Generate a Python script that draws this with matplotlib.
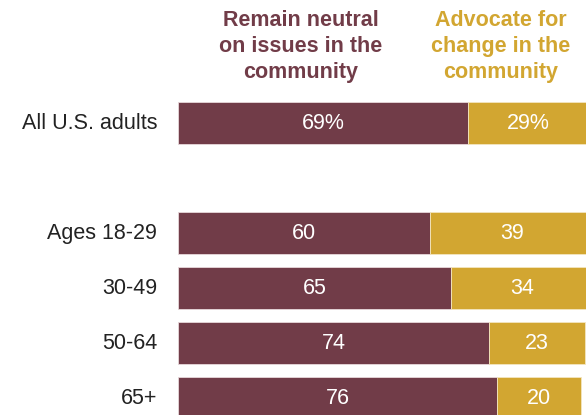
import matplotlib
matplotlib.use("Agg")
import matplotlib.pyplot as plt

plt.rcParams['font.family'] = ['Liberation Sans', 'DejaVu Sans']

# Rows (top to bottom) and the share choosing each option
groups = ["All U.S. adults", "Ages 18-29", "30-49", "50-64", "65+"]
row_pos = [0, 2, 3, 4, 5]
neutral = [69, 60, 65, 74, 76]
advocate = [29, 39, 34, 23, 20]
neutral_labels = ["69%", "60", "65", "74", "76"]
advocate_labels = ["29%", "39", "34", "23", "20"]

MAROON = "#713c48"
GOLD = "#d2a631"

W, H = 586, 415
fig = plt.figure(figsize=(W / 100, H / 100), dpi=100)
fig.patch.set_facecolor("white")

# axes starts where the bars start and runs off the right edge
ax = fig.add_axes([178 / W, 0, 1 - 178 / W, 1])
ax.set_xlim(0, 408 / 4.2)
ax.set_ylim((H - 123) / 55, -123 / 55)
ax.axis("off")

bar_h = 0.77
ax.barh(row_pos, neutral, height=bar_h, color=MAROON,
        edgecolor="#e8d8da", linewidth=0.6)
ax.barh(row_pos, advocate, left=neutral, height=bar_h, color=GOLD,
        edgecolor="#f3e6c0", linewidth=0.6)

for y, n, a, nl, al in zip(row_pos, neutral, advocate, neutral_labels, advocate_labels):
    ax.text(n / 2, y, nl, ha="center", va="center", color="white", fontsize=15.5)
    ax.text(n + a / 2, y, al, ha="center", va="center", color="white", fontsize=15.5)

# row labels to the left of the bars
for y, g in zip(row_pos, groups):
    ax.text(-21 / 4.2, y, g, ha="right", va="center", color="#222222",
            fontsize=15.5, clip_on=False)

# column headers
fig.text(301 / W, 1 - 10 / H, "Remain neutral\non issues in the\ncommunity",
         ha="center", va="top", color=MAROON, fontsize=15.5,
         fontweight="bold", linespacing=1.3)
fig.text(501 / W, 1 - 10 / H, "Advocate for\nchange in the\ncommunity",
         ha="center", va="top", color=GOLD, fontsize=15.5,
         fontweight="bold", linespacing=1.3)

fig.savefig("out.png", dpi=100, facecolor="white")
